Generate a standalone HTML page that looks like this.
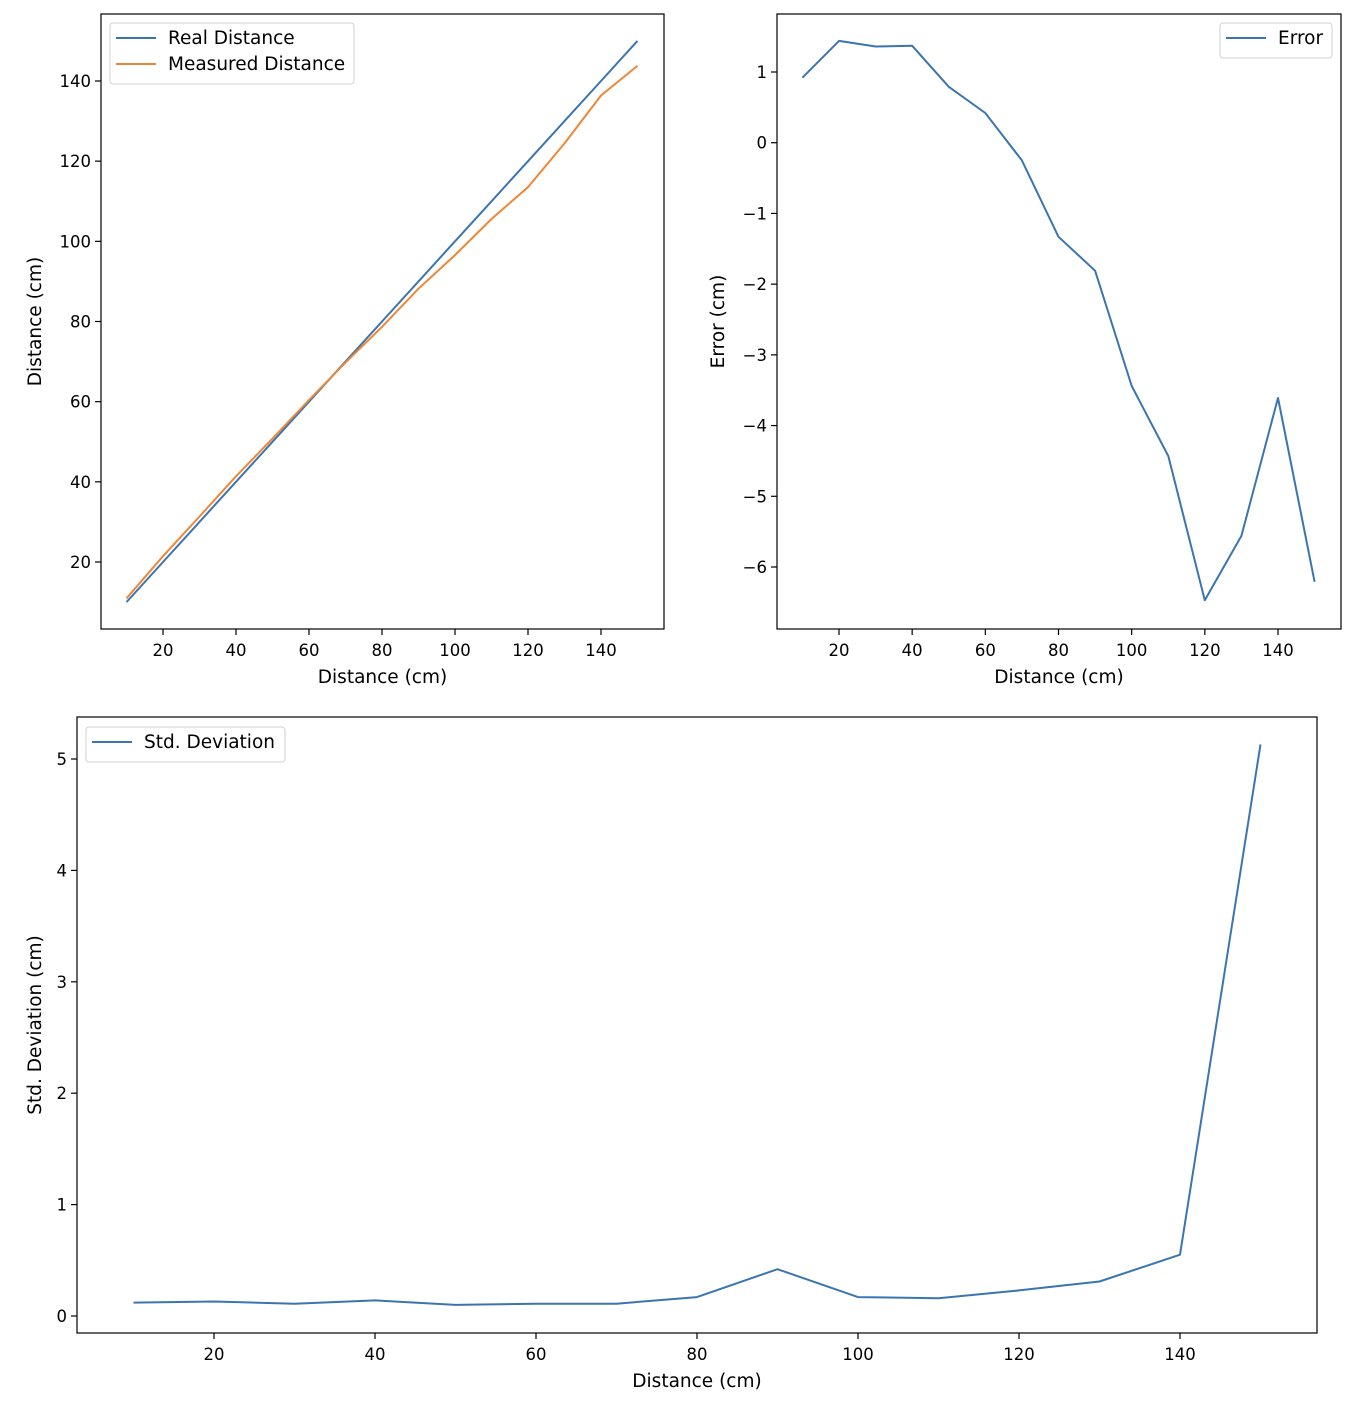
<!DOCTYPE html>
<html><head><meta charset="utf-8"><style>
html,body{margin:0;padding:0;background:#fff;}
svg{display:block;font-family:"DejaVu Sans","Liberation Sans",sans-serif;}
</style></head><body>
<svg id="fig" width="1366" height="1414" viewBox="0 0 1366 1414" xmlns="http://www.w3.org/2000/svg"></svg>
<script>
const distances = [10,20,30,40,50,60,70,80,90,100,110,120,130,140,150];
const realDistance = [10,20,30,40,50,60,70,80,90,100,110,120,130,140,150];
const measuredDistance = [10.92,21.44,31.36,41.37,50.79,60.42,69.75,78.67,88.19,96.56,105.57,113.53,124.44,136.39,143.79];
const errorValues = [0.92,1.44,1.36,1.37,0.79,0.42,-0.25,-1.33,-1.81,-3.44,-4.43,-6.47,-5.56,-3.61,-6.21];
const stdValues = [0.12,0.13,0.11,0.14,0.10,0.11,0.11,0.17,0.42,0.17,0.16,0.23,0.31,0.55,5.13];
const xTicks1 = [20,40,60,80,100,120,140];
const yTicks1 = [20,40,60,80,100,120,140];
const yTicks2 = [1,0,-1,-2,-3,-4,-5,-6];
const yTicks3 = [0,1,2,3,4,5];

const NS="http://www.w3.org/2000/svg";
const svg=document.getElementById('fig');
function mk(tag,attrs,parent){const e=document.createElementNS(NS,tag);for(const k in attrs)e.setAttribute(k,attrs[k]);(parent||svg).appendChild(e);return e;}
function lin(d0,d1,r0,r1){return v=>r0+(v-d0)*(r1-r0)/(d1-d0);}

function panel(o){
  const g=mk('g',{});
  
  
  const xs=lin(o.xd[0],o.xd[1],o.xr[0],o.xr[1]);
  const ys=lin(o.yd[0],o.yd[1],o.yr[0],o.yr[1]);
  o.series.forEach(s=>{
    const pts=distances.map((d,i)=>xs(d).toFixed(1)+','+ys(s.vals[i]).toFixed(1)).join(' ');
    const p=mk('polyline',{points:pts,fill:'none',stroke:s.color,'stroke-width':2,'stroke-linejoin':'round'},g);
    
    
  });
  const f=mk('rect',{x:o.box[0],y:o.box[1],width:o.box[2]-o.box[0],height:o.box[3]-o.box[1],fill:'none',stroke:'#000','stroke-width':1.2},g);
  
  
  o.xt.forEach(t=>{
    const x=xs(t);
    mk('line',{x1:x,x2:x,y1:o.box[3],y2:o.box[3]+6,stroke:'#000','stroke-width':1.2},g);
    const tx=mk('text',{x:x,y:o.box[3]+27,'text-anchor':'middle','font-size':16.5,fill:'#000'},g);
    tx.textContent=t;
    
    
  });
  o.yt.forEach(t=>{
    const y=ys(t);
    mk('line',{x1:o.box[0]-6,x2:o.box[0],y1:y,y2:y,stroke:'#000','stroke-width':1.2},g);
    const tx=mk('text',{x:o.box[0]-10,y:y+6,'text-anchor':'end','font-size':16.5,fill:'#000'},g);
    tx.textContent=String(t).replace('-','\u2212');
    
    
  });
  const xl=mk('text',{x:(o.box[0]+o.box[2])/2,y:o.box[3]+54,'text-anchor':'middle','font-size':18.5},g);
  xl.textContent=o.xlabel;
  
  
  const cy=(o.box[1]+o.box[3])/2;
  const yl=mk('text',{x:o.ylx,y:cy,'text-anchor':'middle','font-size':18.5,transform:`rotate(-90 ${o.ylx} ${cy})`},g);
  yl.textContent=o.ylabel;
  
  
  const L=o.legend;
  const lg=mk('g',{},g);
  
  
  mk('rect',{x:L.x,y:L.y,width:L.w,height:9+26*o.series.length,rx:3,fill:'#fff',stroke:'#d0d0d0','stroke-width':1},lg);
  o.series.forEach((s,i)=>{
    const y=L.y+15+26*i;
    mk('line',{x1:L.x+6,x2:L.x+46,y1:y,y2:y,stroke:s.color,'stroke-width':2},lg);
    const t=mk('text',{x:L.x+58,y:y+6,'font-size':18.5},lg);
    t.textContent=s.label;
    
    
  });
}

panel({name:'distance-chart',box:[101,14,664,629],xd:[20,140],xr:[163,601],yd:[20,140],yr:[562,81],
  xt:xTicks1,yt:yTicks1,xlabel:'Distance (cm)',ylabel:'Distance (cm)',ylx:41,
  legend:{x:110,y:23,w:244},
  series:[{id:'real-distance-line',vals:realDistance,color:'#3b75af',label:'Real Distance'},
          {id:'measured-distance-line',vals:measuredDistance,color:'#ef8636',label:'Measured Distance'}]});
panel({name:'error-chart',box:[777,14,1341,629],xd:[20,140],xr:[839,1278],yd:[1,-6],yr:[72,567],
  xt:xTicks1,yt:yTicks2,xlabel:'Distance (cm)',ylabel:'Error (cm)',ylx:724,
  legend:{x:1220,y:23,w:112},
  series:[{id:'error-line',vals:errorValues,color:'#3b75af',label:'Error'}]});
panel({name:'std-deviation-chart',box:[77,717,1317,1333],xd:[20,140],xr:[214,1180],yd:[0,5],yr:[1316,759],
  xt:xTicks1,yt:yTicks3,xlabel:'Distance (cm)',ylabel:'Std. Deviation (cm)',ylx:41,
  legend:{x:86,y:727,w:199},
  series:[{id:'std-deviation-line',vals:stdValues,color:'#3b75af',label:'Std. Deviation'}]});
</script>
</body></html>
